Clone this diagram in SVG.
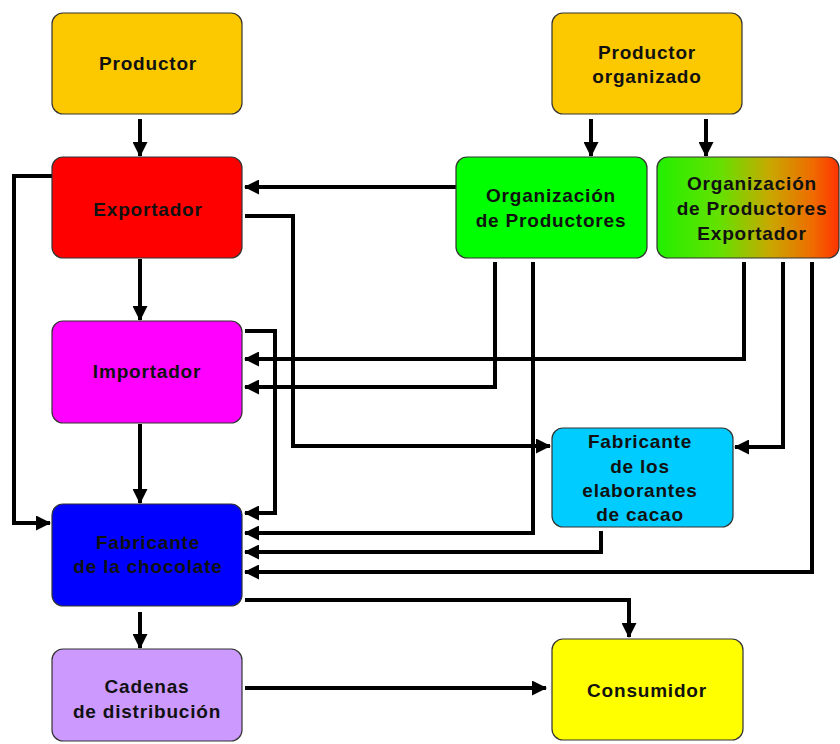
<svg xmlns="http://www.w3.org/2000/svg" width="840" height="744" viewBox="0 0 840 744">
<style>
.box{stroke:#333;stroke-width:1.2}
.lbl{font-family:"Liberation Sans",Arial,sans-serif;font-weight:bold;font-size:19px;letter-spacing:0.8px;fill:#111;text-anchor:middle}
.c{fill:none;stroke:#000;stroke-width:4;marker-end:url(#ah)}
</style>
<defs>
<marker id="ah" markerUnits="userSpaceOnUse" markerWidth="15" markerHeight="15" viewBox="0 0 15 15" refX="14" refY="7.5" orient="auto">
<path d="M0,0 L15,7.5 L0,15 z" fill="#000"/>
</marker>
<linearGradient id="gOPE" x1="0" y1="0" x2="1" y2="0">
<stop offset="0" stop-color="#22f000"/>
<stop offset="0.35" stop-color="#66e000"/>
<stop offset="0.62" stop-color="#c8a800"/>
<stop offset="0.86" stop-color="#f06a00"/>
<stop offset="1" stop-color="#ff3300"/>
</linearGradient>
</defs>
<rect width="840" height="744" fill="#fff"/>
<g id="connectors">
<path class="c" d="M140,119 V156"/>
<path class="c" d="M591,119 V156"/>
<path class="c" d="M706,119 V156"/>
<path class="c" d="M456,187 H245"/>
<path class="c" d="M52,176 H14 V523 H50"/>
<path class="c" d="M245,216 H293 V446 H550"/>
<path class="c" d="M140,259 V320"/>
<path class="c" d="M140,424 V503"/>
<path class="c" d="M245,331 H275 V513 H245"/>
<path class="c" d="M744,262 V359 H245"/>
<path class="c" d="M495,262 V387 H245"/>
<path class="c" d="M533,262 V533 H245"/>
<path class="c" d="M601,531 V552 H245"/>
<path class="c" d="M783,262 V447 H735"/>
<path class="c" d="M812,262 V572 H245"/>
<path class="c" d="M245,600 H629 V637"/>
<path class="c" d="M140,612 V648"/>
<path class="c" d="M245,688 H546"/>
</g>
<g id="productor">
<rect class="box" x="52" y="13" width="190" height="101" rx="11" fill="#fcc800"/>
<text class="lbl" x="148" y="70">Productor</text>
</g>
<g id="productor-organizado">
<rect class="box" x="552" y="13" width="190" height="101" rx="11" fill="#fcc800"/>
<text class="lbl" x="647" y="59">Productor</text>
<text class="lbl" x="647" y="83">organizado</text>
</g>
<g id="exportador">
<rect class="box" x="52" y="157" width="190" height="101" rx="11" fill="#ff0000"/>
<text class="lbl" x="148" y="216">Exportador</text>
</g>
<g id="org-productores">
<rect class="box" x="456" y="157" width="191" height="101" rx="11" fill="#00ff00"/>
<text class="lbl" x="551" y="202">Organización</text>
<text class="lbl" x="551" y="227">de Productores</text>
</g>
<g id="org-productores-exportador">
<rect class="box" x="657" y="157" width="182" height="101" rx="11" fill="url(#gOPE)"/>
<text class="lbl" x="752" y="190">Organización</text>
<text class="lbl" x="752" y="215">de Productores</text>
<text class="lbl" x="752" y="240">Exportador</text>
</g>
<g id="importador">
<rect class="box" x="52" y="321" width="190" height="102" rx="11" fill="#ff00ff"/>
<text class="lbl" x="147" y="378">Importador</text>
</g>
<g id="fabricante-elaborantes">
<rect class="box" x="552" y="428" width="181" height="99" rx="11" fill="#00ccff"/>
<text class="lbl" x="640" y="448">Fabricante</text>
<text class="lbl" x="640" y="473">de los</text>
<text class="lbl" x="640" y="497">elaborantes</text>
<text class="lbl" x="640" y="521">de cacao</text>
</g>
<g id="fabricante-chocolate">
<rect class="box" x="52" y="504" width="190" height="102" rx="11" fill="#0000ff"/>
<text class="lbl" x="148" y="549">Fabricante</text>
<text class="lbl" x="148" y="573">de la chocolate</text>
</g>
<g id="cadenas">
<rect class="box" x="52" y="649" width="190" height="92" rx="11" fill="#cc99ff"/>
<text class="lbl" x="147" y="693">Cadenas</text>
<text class="lbl" x="147" y="718">de distribución</text>
</g>
<g id="consumidor">
<rect class="box" x="552" y="639" width="191" height="101" rx="11" fill="#ffff00"/>
<text class="lbl" x="647" y="697">Consumidor</text>
</g>
</svg>
